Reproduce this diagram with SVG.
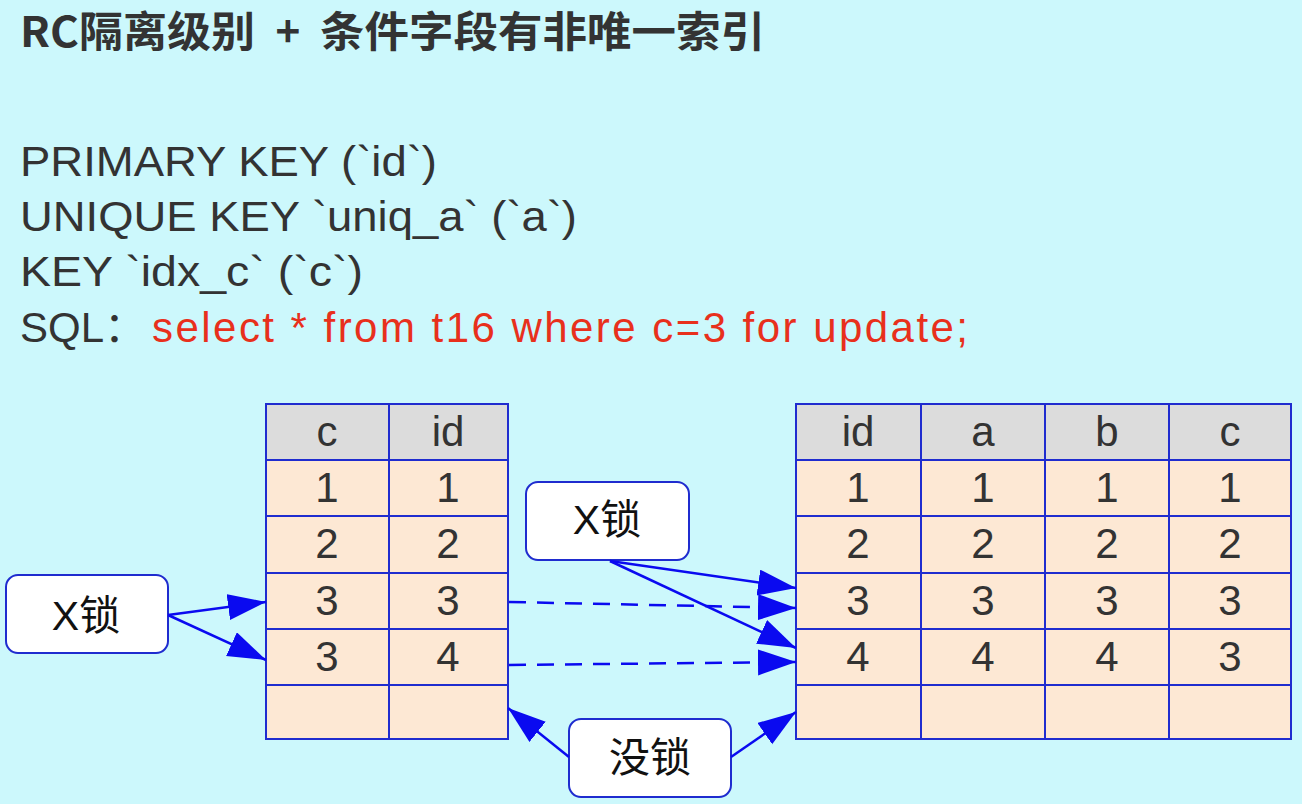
<svg xmlns="http://www.w3.org/2000/svg" width="1302" height="804" viewBox="0 0 1302 804">
<defs>
<marker id="ah" markerUnits="userSpaceOnUse" markerWidth="40" markerHeight="28" refX="38" refY="13" orient="auto">
<path d="M0,0 L38,13 L0,26 z" fill="#0a0af0"/>
</marker>
<style>
.bg{fill:#ccf8fc}
.t{font-family:"Liberation Sans","Noto Sans CJK SC",sans-serif;fill:#333}
.title{font-family:"Noto Sans CJK SC","Liberation Sans",sans-serif;font-weight:bold;font-size:42px;fill:#333}
.big{font-size:42px}
.red{fill:#e8301c}
.hd{fill:#dcdcdc;stroke:#1f2ccf;stroke-width:2}
.cell{fill:#fde8d4;stroke:#1f2ccf;stroke-width:2}
.ct{font-family:"Liberation Sans",sans-serif;font-size:42px;fill:#333;text-anchor:middle}
.box{fill:#fff;stroke:#1f2ccf;stroke-width:2}
.lbl{font-family:"Liberation Sans","Noto Sans CJK SC",sans-serif;font-size:41px;fill:#111;text-anchor:middle}
.e{stroke:#0a0af0;stroke-width:2.5;fill:none;marker-end:url(#ah)}
.d{stroke-dasharray:17 11}
</style>
</defs>
<rect class="bg" x="0" y="0" width="1302" height="804"/>
<g class="title">
<text x="20" y="47" textLength="235" lengthAdjust="spacingAndGlyphs">RC隔离级别</text>
<text x="288" y="47" text-anchor="middle">+</text>
<text x="320" y="47" textLength="445" lengthAdjust="spacingAndGlyphs">条件字段有非唯一索引</text>
</g>
<g class="t big">
<text x="20" y="176" textLength="417" lengthAdjust="spacingAndGlyphs">PRIMARY KEY (`id`)</text>
<text x="20" y="231" textLength="557" lengthAdjust="spacingAndGlyphs">UNIQUE KEY `uniq_a` (`a`)</text>
<text x="20" y="286" textLength="343" lengthAdjust="spacingAndGlyphs">KEY `idx_c` (`c`)</text>
<text x="20" y="342">SQL：</text>
<text class="red" x="152" y="342" textLength="816" lengthAdjust="spacing">select * from t16 where c=3 for update;</text>
</g>
<g id="index_c">
<rect class="hd" x="266" y="404" width="123" height="56"/>
<rect class="hd" x="389" y="404" width="119" height="56"/>
<rect class="cell" x="266" y="460" width="123" height="56"/>
<rect class="cell" x="389" y="460" width="119" height="56"/>
<rect class="cell" x="266" y="516" width="123" height="57"/>
<rect class="cell" x="389" y="516" width="119" height="57"/>
<rect class="cell" x="266" y="573" width="123" height="56"/>
<rect class="cell" x="389" y="573" width="119" height="56"/>
<rect class="cell" x="266" y="629" width="123" height="56"/>
<rect class="cell" x="389" y="629" width="119" height="56"/>
<rect class="cell" x="266" y="685" width="123" height="54"/>
<rect class="cell" x="389" y="685" width="119" height="54"/>
<text class="ct" x="327" y="446">c</text><text class="ct" x="448" y="446">id</text>
<text class="ct" x="327" y="502">1</text><text class="ct" x="448" y="502">1</text>
<text class="ct" x="327" y="558">2</text><text class="ct" x="448" y="558">2</text>
<text class="ct" x="327" y="615">3</text><text class="ct" x="448" y="615">3</text>
<text class="ct" x="327" y="671">3</text><text class="ct" x="448" y="671">4</text>
</g>
<g id="primary">
<rect class="hd" x="796" y="404" width="125" height="56"/>
<rect class="hd" x="921" y="404" width="124" height="56"/>
<rect class="hd" x="1045" y="404" width="124" height="56"/>
<rect class="hd" x="1169" y="404" width="122" height="56"/>
<rect class="cell" x="796" y="460" width="125" height="56"/><rect class="cell" x="921" y="460" width="124" height="56"/><rect class="cell" x="1045" y="460" width="124" height="56"/><rect class="cell" x="1169" y="460" width="122" height="56"/>
<rect class="cell" x="796" y="516" width="125" height="57"/><rect class="cell" x="921" y="516" width="124" height="57"/><rect class="cell" x="1045" y="516" width="124" height="57"/><rect class="cell" x="1169" y="516" width="122" height="57"/>
<rect class="cell" x="796" y="573" width="125" height="56"/><rect class="cell" x="921" y="573" width="124" height="56"/><rect class="cell" x="1045" y="573" width="124" height="56"/><rect class="cell" x="1169" y="573" width="122" height="56"/>
<rect class="cell" x="796" y="629" width="125" height="56"/><rect class="cell" x="921" y="629" width="124" height="56"/><rect class="cell" x="1045" y="629" width="124" height="56"/><rect class="cell" x="1169" y="629" width="122" height="56"/>
<rect class="cell" x="796" y="685" width="125" height="54"/><rect class="cell" x="921" y="685" width="124" height="54"/><rect class="cell" x="1045" y="685" width="124" height="54"/><rect class="cell" x="1169" y="685" width="122" height="54"/>
<text class="ct" x="858" y="446">id</text><text class="ct" x="983" y="446">a</text><text class="ct" x="1107" y="446">b</text><text class="ct" x="1230" y="446">c</text>
<text class="ct" x="858" y="502">1</text><text class="ct" x="983" y="502">1</text><text class="ct" x="1107" y="502">1</text><text class="ct" x="1230" y="502">1</text>
<text class="ct" x="858" y="558">2</text><text class="ct" x="983" y="558">2</text><text class="ct" x="1107" y="558">2</text><text class="ct" x="1230" y="558">2</text>
<text class="ct" x="858" y="615">3</text><text class="ct" x="983" y="615">3</text><text class="ct" x="1107" y="615">3</text><text class="ct" x="1230" y="615">3</text>
<text class="ct" x="858" y="671">4</text><text class="ct" x="983" y="671">4</text><text class="ct" x="1107" y="671">4</text><text class="ct" x="1230" y="671">3</text>
</g>
<g id="xlock_left">
<rect class="box" x="6" y="575" width="162" height="78" rx="12"/>
<text class="lbl" x="86" y="630">X锁</text>
</g>
<g id="xlock_mid">
<rect class="box" x="526" y="482" width="163" height="78" rx="12"/>
<text class="lbl" x="607" y="534">X锁</text>
</g>
<g id="nolock">
<rect class="box" x="569" y="719" width="162" height="78" rx="12"/>
<text class="lbl" x="650" y="772">没锁</text>
</g>
<g id="connectors">
<line class="e" x1="168" y1="615" x2="266" y2="602"/>
<line class="e" x1="168" y1="615" x2="266" y2="660"/>
<line class="e" x1="610" y1="561" x2="796" y2="588"/>
<line class="e" x1="610" y1="561" x2="796" y2="648"/>
<line class="e d" x1="509" y1="602" x2="796" y2="608"/>
<line class="e d" x1="509" y1="665" x2="796" y2="662"/>
<line class="e" x1="569" y1="757" x2="508" y2="708"/>
<line class="e" x1="731" y1="757" x2="796" y2="712"/>
</g>
</svg>
